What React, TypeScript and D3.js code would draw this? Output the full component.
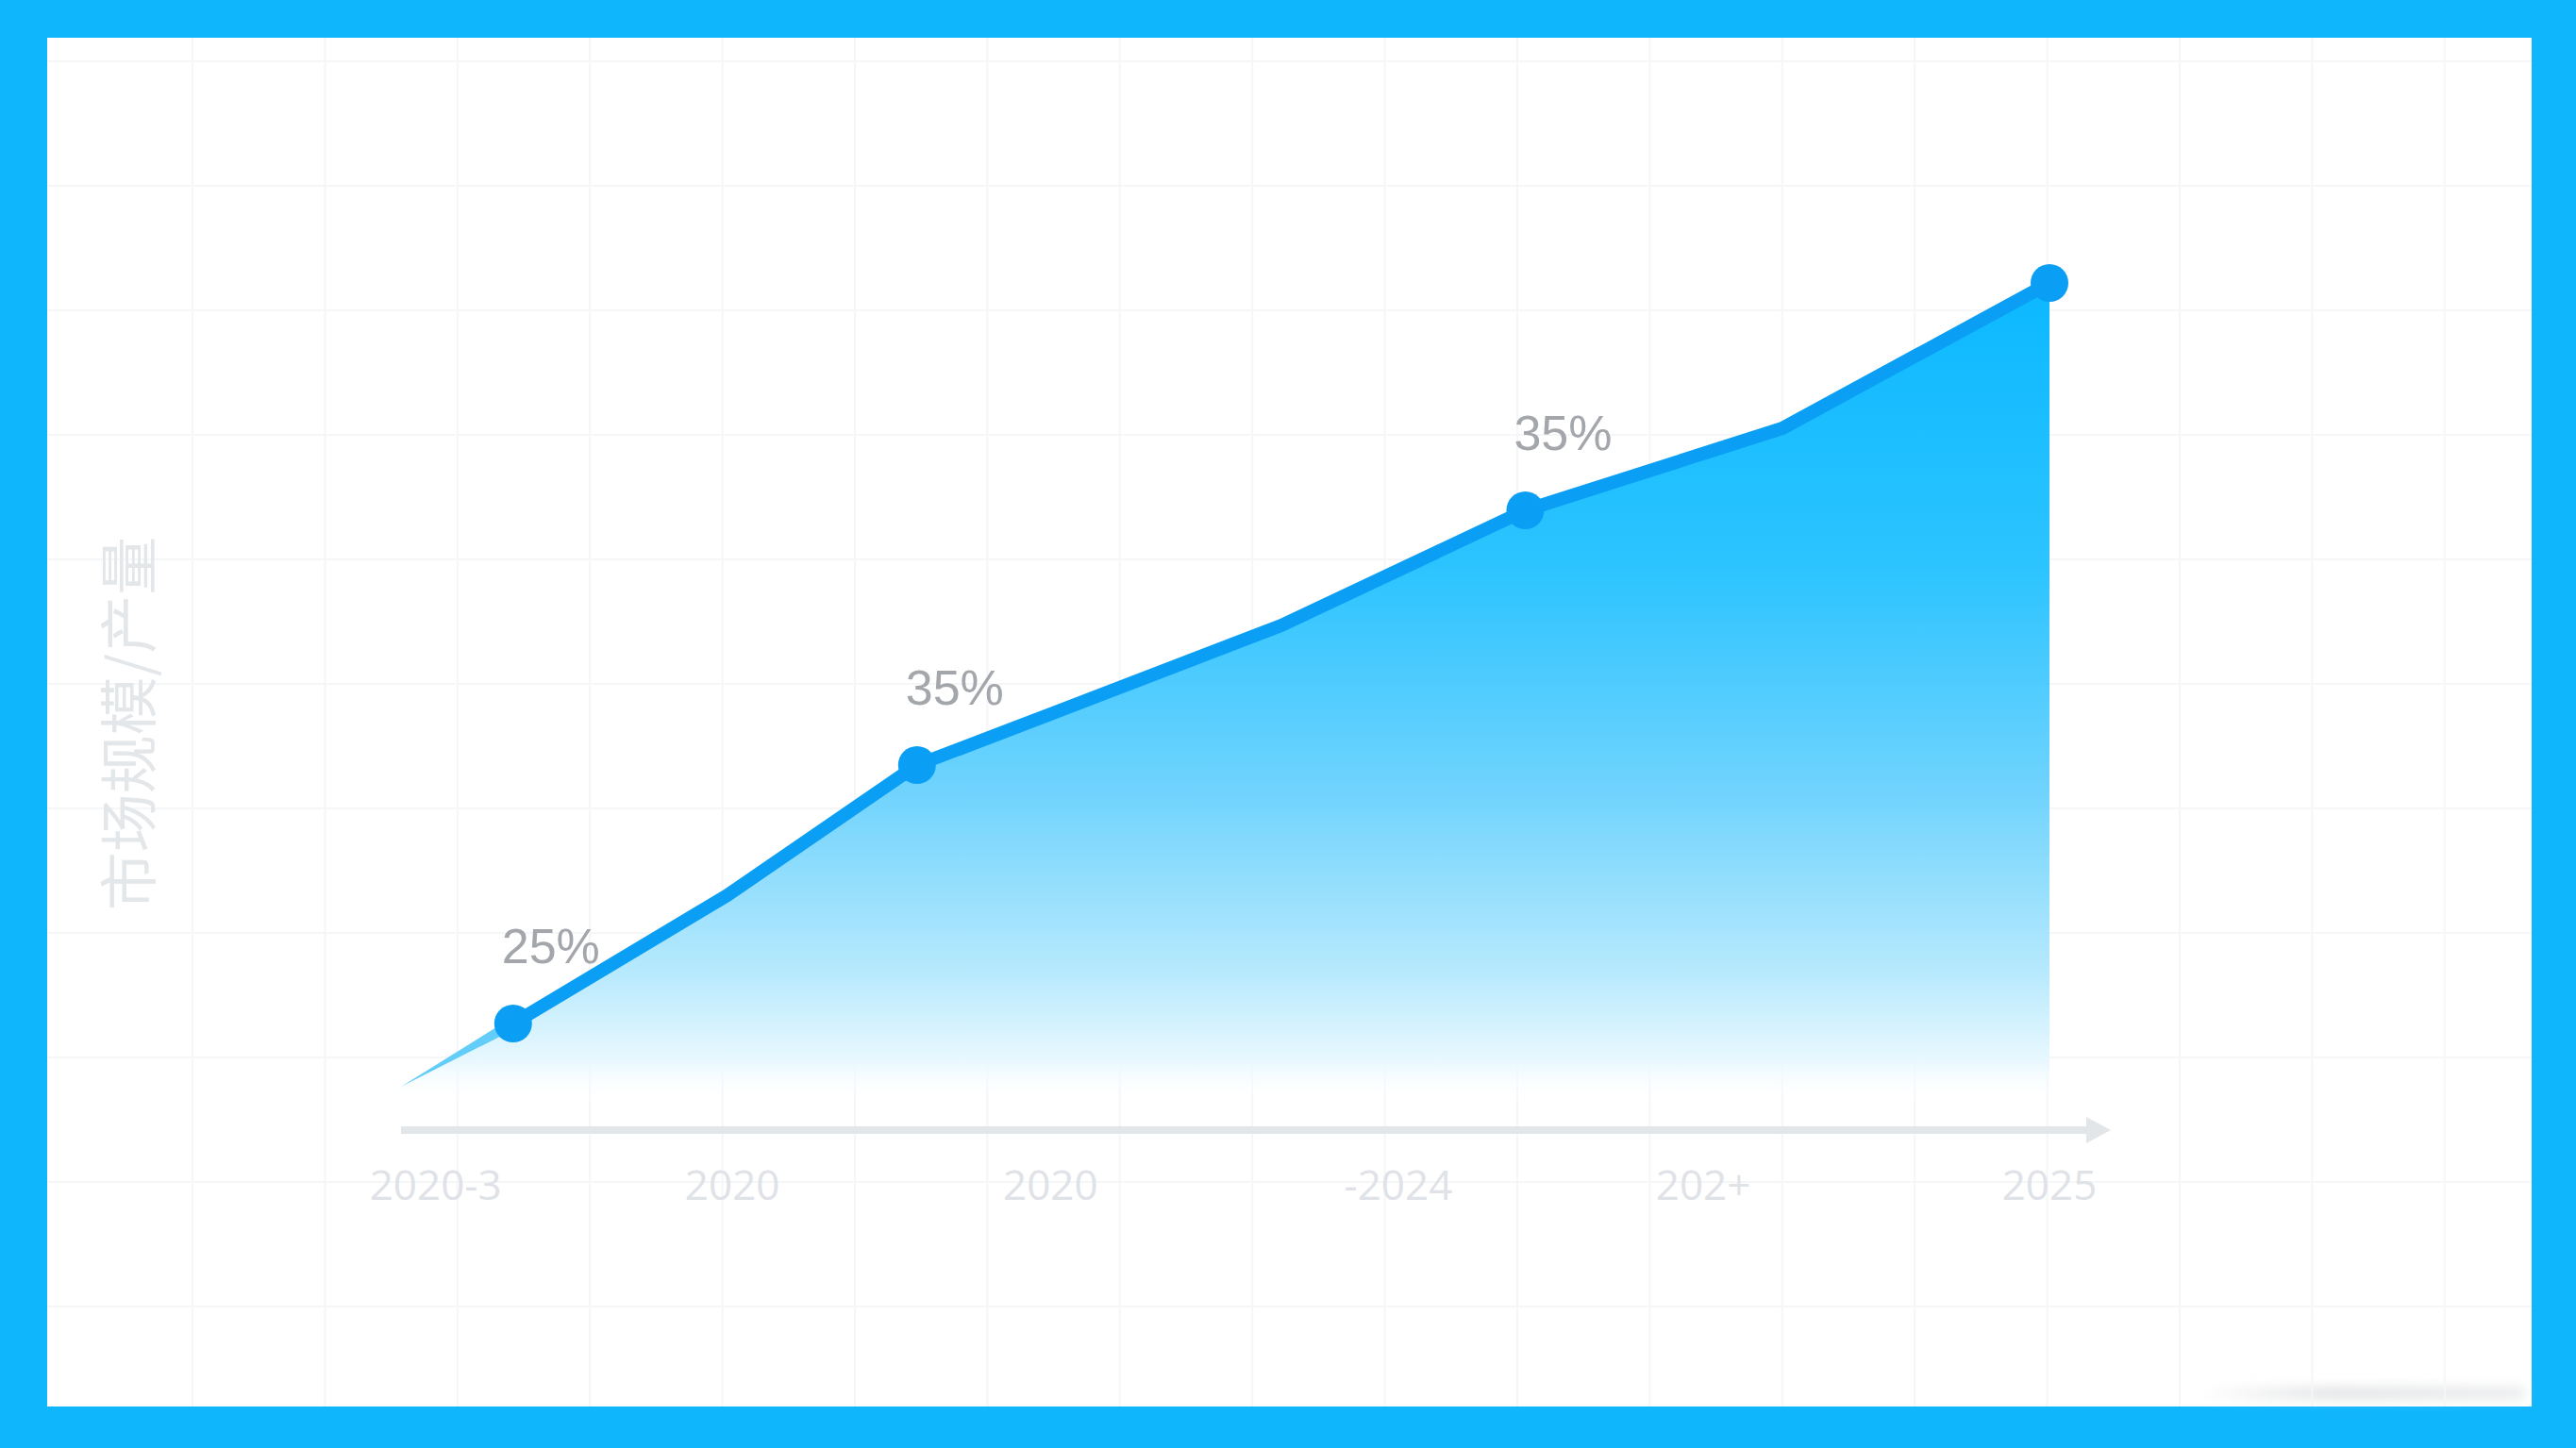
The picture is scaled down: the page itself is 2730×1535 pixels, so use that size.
import React from 'react';
import * as d3 from 'd3';

// timeline position (0–100) and series value (0–100)
const pointPos = [0, 6.8, 19.8, 31.3, 39.4, 53.4, 68.2, 83.8, 100];
const pointValues = [4.6, 11.3, 24.9, 38.7, 44.1, 53.5, 65.7, 74.4, 89.8];
const markerIndex = [1, 3, 6, 8];
const markerLabels = ['25%', '35%', '35%', ''];
const tickPos = [2.1, 20.1, 39.4, 60.5, 79.0, 100];
const tickLabels = ['2020-3', '2020', '2020', '-2024', '202+', '2025'];
const yTitle = '市场规模/产量';

const W = 2730;
const H = 1535;
const card = { x: 50, y: 40, w: 2633, h: 1451 };
const LINE = '#0a9ef5';

export default function App() {
  const x = d3.scaleLinear().domain([0, 100]).range([425, 2172]);
  const y = d3.scaleLinear().domain([0, 100]).range([1198, 198]);
  const pts = pointPos.map((p, i) => ({ p, v: pointValues[i] }));

  const area = d3
    .area<{ p: number; v: number }>()
    .x((d) => x(d.p))
    .y0(y(0))
    .y1((d) => y(d.v));
  const line = d3
    .line<{ p: number; v: number }>()
    .x((d) => x(d.p))
    .y((d) => y(d.v));

  // tapered lead-in from the first point to the first marker
  const a = pts[0];
  const b = pts[1];
  const ax = x(a.p), ay = y(a.v), bx = x(b.p), by = y(b.v);
  const len = Math.hypot(bx - ax, by - ay);
  const nx = -(by - ay) / len, ny = (bx - ax) / len;
  const taper = `M${ax},${ay}L${bx + nx * 6},${by + ny * 6}L${bx - nx * 6},${by - ny * 6}Z`;

  const gridX = d3.range(204, card.x + card.w, 140.4);
  const gridY = d3.range(65, card.y + card.h, 132);

  const axisEnd = 2237;

  return (
    <svg
      width={W}
      height={H}
      viewBox={`0 0 ${W} ${H}`}
      style={{ position: 'absolute', left: 0, top: 0 }}
    >
      <defs>
        <linearGradient id="fillGrad" gradientUnits="userSpaceOnUse" x1="0" y1={y(90)} x2="0" y2={y(3)}>
          <stop offset="0" stopColor="#0bb8ff" />
          <stop offset="0.35" stopColor="#2cc4ff" />
          <stop offset="0.62" stopColor="#6fd3fd" />
          <stop offset="0.84" stopColor="#b6e9fd" />
          <stop offset="0.95" stopColor="#e8f8fe" />
          <stop offset="1" stopColor="#ffffff" stopOpacity="0" />
        </linearGradient>
        <linearGradient id="shadowGrad" x1="0" y1="0" x2="1" y2="0">
          <stop offset="0" stopColor="#d8dadc" stopOpacity="0" />
          <stop offset="0.4" stopColor="#d8dadc" stopOpacity="0.7" />
          <stop offset="1" stopColor="#d8dadc" stopOpacity="0.5" />
        </linearGradient>
        <filter id="blur" x="-10%" y="-200%" width="120%" height="500%">
          <feGaussianBlur stdDeviation="6" />
        </filter>
      </defs>

      <rect width={W} height={H} fill="#10b6fc" />
      <rect x={card.x} y={card.y} width={card.w} height={card.h} fill="#ffffff" />
      <rect x={2330} y={1470} width={345} height={14} fill="url(#shadowGrad)" filter="url(#blur)" />

      <g stroke="#f5f6f8" strokeWidth={2}>
        {gridX.map((gx) => (
          <line key={`gx${gx}`} x1={gx} x2={gx} y1={card.y} y2={card.y + card.h} />
        ))}
        {gridY.map((gy) => (
          <line key={`gy${gy}`} x1={card.x} x2={card.x + card.w} y1={gy} y2={gy} />
        ))}
      </g>

      <path d={area(pts) ?? ''} fill="url(#fillGrad)" />

      <line x1={x(0)} x2={axisEnd - 18} y1={y(0)} y2={y(0)} stroke="#e3e6e9" strokeWidth={8} />
      <path
        d={`M${axisEnd - 26},${y(0) - 14}L${axisEnd},${y(0)}L${axisEnd - 26},${y(0) + 14}Z`}
        fill="#e3e6e9"
      />

      <path d={taper} fill="#63cdf9" />
      <path
        d={line(pts.slice(1)) ?? ''}
        fill="none"
        stroke={LINE}
        strokeWidth={14}
        strokeLinejoin="round"
        strokeLinecap="round"
      />

      {markerIndex.map((idx, k) => (
        <g key={`m${idx}`}>
          <circle cx={x(pts[idx].p)} cy={y(pts[idx].v)} r={20} fill={LINE} />
          {markerLabels[k] && (
            <text
              x={x(pts[idx].p) + 40}
              y={y(pts[idx].v) - 64}
              textAnchor="middle"
              fontFamily="'Liberation Sans', Arial, sans-serif"
              fontSize={52}
              fill="#a3a6aa"
            >
              {markerLabels[k]}
            </text>
          )}
        </g>
      ))}

      {tickPos.map((t, i) => (
        <text
          key={`t${i}`}
          x={x(t)}
          y={1272}
          textAnchor="middle"
          fontFamily="'Open Sans', Roboto, sans-serif"
          fontSize={44}
          fill="#dfe2e6"
        >
          {tickLabels[i]}
        </text>
      ))}

      <text
        transform={`translate(${160},${767}) rotate(-90)`}
        textAnchor="middle"
        fontFamily="'Noto Sans CJK SC', sans-serif"
        fontSize={62}
        fill="#e4e7ea"
      >
        {yTitle}
      </text>
    </svg>
  );
}
